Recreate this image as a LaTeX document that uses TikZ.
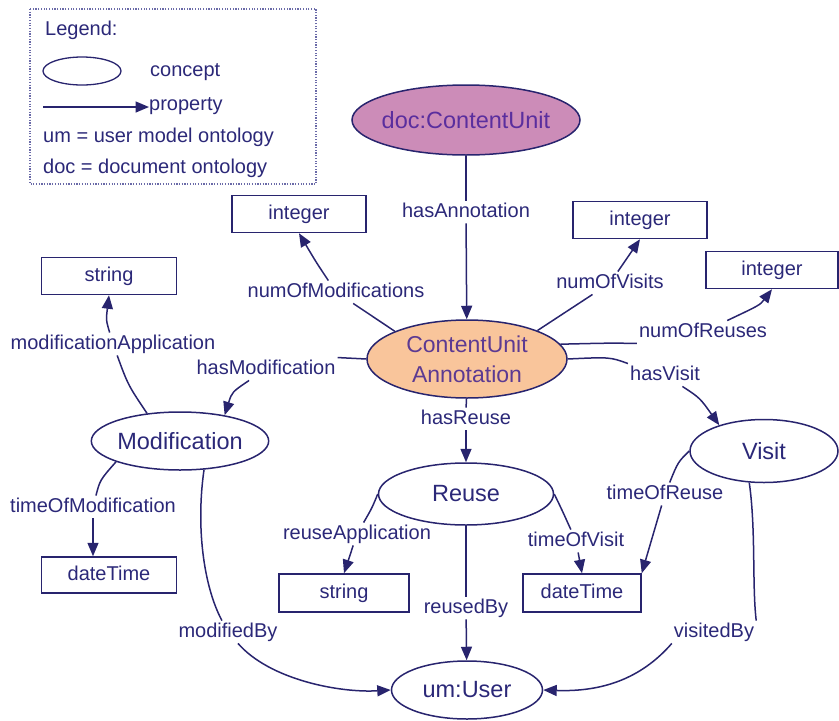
\documentclass[tikz,border=0pt]{standalone}
\usepackage{fontspec}
\setmainfont{Liberation Sans}
\usetikzlibrary{arrows.meta,shapes.geometric}
\definecolor{ink}{HTML}{28246E}
\definecolor{txt}{HTML}{2B2878}
\definecolor{docfill}{HTML}{CC8CB8}
\definecolor{doctxt}{HTML}{5A2E9E}
\definecolor{cufill}{HTML}{F9C59B}
\definecolor{cutxt}{HTML}{5C3A92}
\definecolor{legendline}{HTML}{6A6AA8}

\begin{document}
\begin{tikzpicture}[x=1pt,y=-1pt,
  concept/.style={ellipse,draw=ink,line width=1.5pt,inner sep=0pt,text=txt,
    font=\fontsize{23.5}{28}\selectfont},
  datatype/.style={rectangle,draw=ink,line width=1.5pt,inner sep=0pt,text=txt,
    text height=14.5pt,text depth=4pt,font=\fontsize{20}{24}\selectfont},
  prop/.style={inner sep=2pt,text=txt,text height=14.5pt,text depth=4pt,
    font=\fontsize{20}{24}\selectfont},
  link/.style={draw=ink,line width=1.5pt},
  arr/.style={link,-{Triangle[length=13.5pt,width=11pt]}},
  legtext/.style={anchor=west,inner sep=0pt,text=txt,text height=14.5pt,
    text depth=4pt,font=\fontsize{20}{24}\selectfont},
]
\useasboundingbox (0,0) rectangle (839,721);

% legend
\draw[legendline,line width=1.2pt,dash pattern=on 1.2pt off 1.5pt] (30,9) rectangle (316,184);
\node[legtext] (lgT) at (45,30) {Legend:};
\node[concept,minimum width=78pt,minimum height=28pt,line width=1.3pt] (lgC) at (82,71) {};
\node[legtext] (lgCt) at (150,71) {concept};
\coordinate (lgA) at (43,107);
\node[legtext] (lgPt) at (149,105) {property};
\draw[arr] (lgA) -- (lgA -| lgPt.west);
\node[legtext] (lgUm) at (43,137) {um = user model ontology};
\node[legtext] (lgDoc) at (43,168) {doc = document ontology};

% concepts
\node[concept,fill=docfill,text=doctxt,minimum width=228pt,minimum height=70pt,inner xsep=-6pt] (doc) at (466,120) {doc:ContentUnit};
\node[concept,fill=cufill,text=cutxt,minimum width=200pt,minimum height=78pt,align=center,
  font=\fontsize{23}{30}\selectfont] (cua) at (467,359) {ContentUnit\\Annotation};
\node[concept,minimum width=174pt,minimum height=58pt] (mod) at (180,441) {Modification};
\node[concept,minimum width=175pt,minimum height=62pt] (reuse) at (466,494) {Reuse};
\node[concept,minimum width=148pt,minimum height=63pt] (visit) at (764,451) {Visit};
\node[concept,minimum width=151pt,minimum height=58pt] (user) at (467,690) {um:User};

% datatypes
\node[datatype,minimum width=134pt,minimum height=37pt] (i1) at (299,214) {integer};
\node[datatype,minimum width=134pt,minimum height=37pt] (i2) at (640,220) {integer};
\node[datatype,minimum width=132pt,minimum height=37pt] (i3) at (772,270) {integer};
\node[datatype,minimum width=135pt,minimum height=37pt] (s1) at (109,276) {string};
\node[datatype,minimum width=135pt,minimum height=36pt] (d1) at (109,575) {dateTime};
\node[datatype,minimum width=130pt,minimum height=38pt] (s2) at (344,593) {string};
\node[datatype,minimum width=118pt,minimum height=38pt] (d2) at (582,593) {dateTime};

% property labels
\node[prop] (lHA) at (466,212) {hasAnnotation};
\node[prop] (lNM) at (336,292) {numOfModifications};
\node[prop] (lNV) at (610,283) {numOfVisits};
\node[prop] (lNR) at (703,332) {numOfReuses};
\node[prop] (lHV) at (665,375) {hasVisit};
\node[prop] (lHM) at (266,369) {hasModification};
\node[prop] (lMA) at (113,344) {modificationApplication};
\node[prop] (lTM) at (93,507) {timeOfModification};
\node[prop] (lMB) at (228,632) {modifiedBy};
\node[prop] (lHR) at (466,419) {hasReuse};
\node[prop] (lRA) at (357,534) {reuseApplication};
\node[prop] (lTV) at (576,541) {timeOfVisit};
\node[prop] (lRB) at (466,608) {reusedBy};
\node[prop] (lTR) at (665,494) {timeOfReuse};
\node[prop] (lVB) at (714,632) {visitedBy};

% properties
\draw[link] (doc) -- (lHA);
\draw[arr] (lHA) -- (cua);
\draw[link] (cua.159) .. controls (372,316) .. (lNM);
\draw[arr] (lNM) .. controls (316,262) .. (i1.south);
\draw[link] (cua.22) -- (lNV);
\draw[arr] (lNV) -- (i2.south);
\draw[link] (cua.9) .. controls (610,343) .. (lNR.south west);
\draw[arr] (lNR) .. controls (760,305) .. (i3.south);
\draw[link] (cua.east) .. controls (610,357) .. (lHV.north west);
\draw[arr] (lHV) .. controls (700,398) .. (visit.150);
\draw[link] (cua.west) -- (lHM.north east);
\draw[arr] (lHM) .. controls (232,392) .. (mod.30);
\draw[link] (mod.140) .. controls (128,385) .. (lMA);
\draw[arr] (lMA) .. controls (106,320) .. (s1.south);
\draw[link] (mod.198) .. controls (100,480) .. (lTM);
\draw[arr] (lTM) -- (lTM |- d1.north);
\draw[link] (mod.310) .. controls (196,525) and (203,585) .. (lMB);
\draw[arr] (lMB) .. controls (270,680) and (340,693) .. (user.west);
\draw[link] (cua) -- (lHR);
\draw[arr] (lHR) -- (reuse);
\draw[link] (reuse.west) .. controls (372,508) .. (lRA);
\draw[arr] (lRA) -- (s2.north);
\draw[link] (reuse.east) .. controls (562,510) .. (lTV);
\draw[arr] (lTV) -- (d2.north);
\draw[link] (reuse) -- (lRB);
\draw[arr] (lRB) -- (user);
\draw[link] (visit.west) .. controls (678,462) .. (lTR);
\draw[arr] (lTR) -- (d2.north east);
\draw[link] (visit.245) .. controls (756,530) and (752,585) .. (lVB.north east);
\draw[arr] (lVB.south west) .. controls (640,680) and (600,692) .. (user.east);
\end{tikzpicture}
\end{document}
